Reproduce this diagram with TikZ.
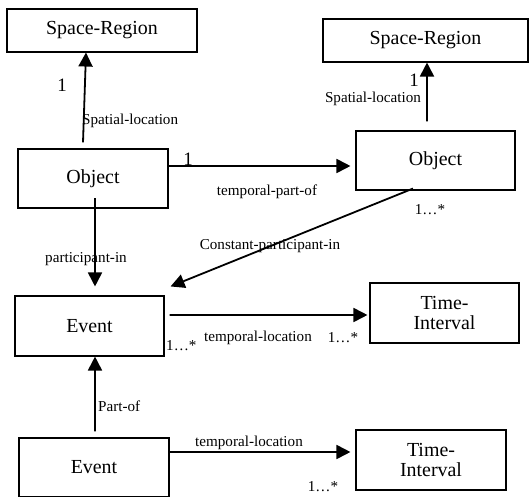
\documentclass[tikz,border=0pt]{standalone}
\usepackage{fontspec}
\setmainfont{Liberation Serif}
\usetikzlibrary{arrows.meta}
\begin{document}
\begin{tikzpicture}[x=1bp,y=-1bp,
  cls/.style={draw,line width=1.1bp,inner sep=0pt,align=center,
    font=\fontsize{20}{21}\selectfont},
  arr/.style={line width=1.8bp,-{Triangle[length=14bp,width=14bp]}},
  lbl/.style={inner sep=0pt,font=\fontsize{15.2}{16}\selectfont},
  mult/.style={inner sep=0pt,font=\fontsize{19}{20}\selectfont}]
\useasboundingbox (0,0) rectangle (530,497);

% classes
\node[cls,minimum width=190bp,minimum height=43bp] (sr1) at (102,30.5) {Space-Region};
\node[cls,minimum width=205bp,minimum height=43bp] (sr2) at (425.5,40.5) {Space-Region};
\node[cls,minimum width=150bp,minimum height=59bp] (obj1) at (93,178.5) {Object};
\node[cls,minimum width=159bp,minimum height=59bp] (obj2) at (435.5,160.5) {Object};
\node[cls,minimum width=149bp,minimum height=60bp] (ev1) at (89.5,326) {Event};
\node[cls,minimum width=149bp,minimum height=60bp] (ti1) at (444.5,313) {Time-\\Interval};
\node[cls,minimum width=150bp,minimum height=59bp] (ev2) at (94,467.5) {Event};
\node[cls,minimum width=150bp,minimum height=60bp] (ti2) at (431,460) {Time-\\Interval};

% associations
\draw[arr] ([xshift=-10bp,yshift=6bp]obj1.north) -- ([xshift=-16bp]sr1.south);
\draw[arr] ([yshift=12.5bp]obj1.east) -- ([xshift=-5bp,yshift=-5.5bp]obj2.west);
\draw[arr] ([xshift=-8.5bp,yshift=9bp]obj2.north) -- ([xshift=1.5bp]sr2.south);
\draw[arr] ([xshift=2bp,yshift=-19.5bp]obj1.center) -- ([xshift=5.5bp,yshift=9bp]ev1.north);
\draw[arr] ([xshift=-22.5bp,yshift=2bp]obj2.south) -- ([xshift=6bp,yshift=9bp]ev1.north east);
\draw[arr] ([xshift=5bp,yshift=11bp]ev1.east) -- ([xshift=-2bp,yshift=-2bp]ti1.west);
\draw[arr] ([xshift=1bp,yshift=6bp]ev2.north) -- ([xshift=5.5bp]ev1.south);
\draw[arr] ([yshift=15.5bp]ev2.east) -- ([xshift=-5bp,yshift=8bp]ti2.west);

% role names and multiplicities
\node[mult] (m1) at (62,85) {1};
\node[lbl,anchor=west] (l1) at (82,121) {Spatial-location};
\node[mult] (m2) at (188,159) {1};
\node[lbl] (l2) at (267,192) {temporal-part-of};
\node[lbl] (l3) at (373,99) {Spatial-location};
\node[mult] (m3) at (414,80.5) {1};
\node[lbl] (m4) at (430,210) {1…*};
\node[lbl] (l4) at (86,259) {participant-in};
\node[lbl] (l5) at (270,246) {Constant-participant-in};
\node[lbl,anchor=west] (m5) at (166,346) {1…*};
\node[lbl] (l6) at (258,338) {temporal-location};
\node[lbl] (m6) at (343,338) {1…*};
\node[lbl,anchor=west] (l7) at (98,406) {Part-of};
\node[lbl] (l8) at (249,443) {temporal-location};
\node[lbl] (m7) at (323,487) {1…*};
\end{tikzpicture}
\end{document}
